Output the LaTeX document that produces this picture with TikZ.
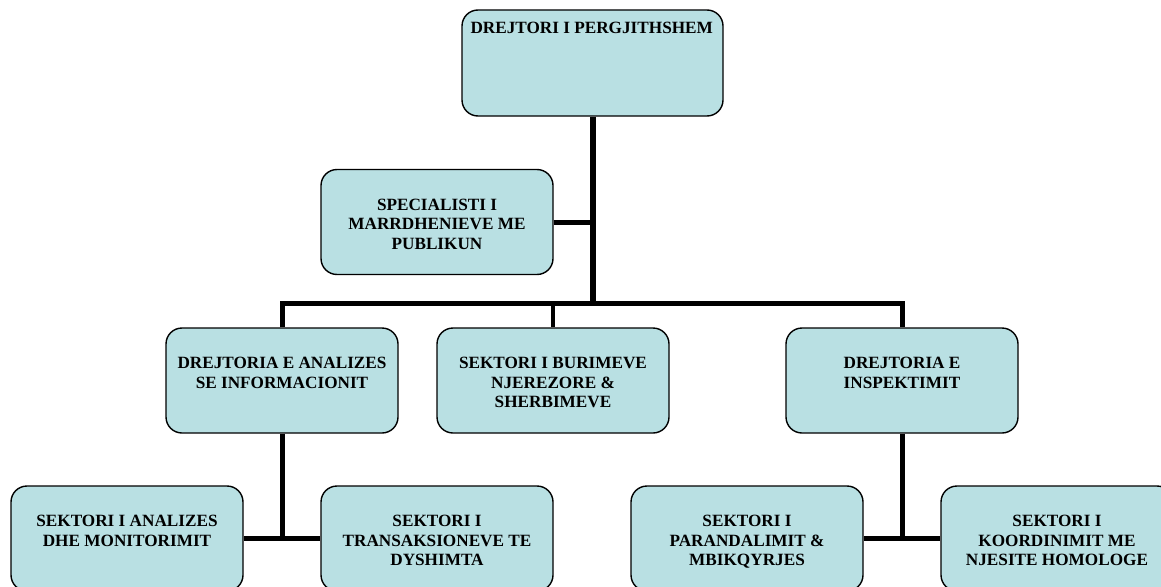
\documentclass[tikz,border=0pt]{standalone}
\usepackage{fontspec}
\setmainfont{Liberation Serif}
\usetikzlibrary{positioning}
\definecolor{boxfill}{RGB}{185,224,227}
\tikzset{
  unit/.style={draw, line width=1.4pt, rounded corners=16pt, fill=boxfill,
    minimum width=232pt, minimum height=105pt, inner sep=0pt},
  unittext/.style={align=center, inner sep=0pt,
    font=\bfseries\fontsize{17.2}{19.5}\selectfont},
  wire/.style={line width=5pt}
}
\begin{document}
\begin{tikzpicture}[x=1pt, y=-1pt]
  \useasboundingbox (0,0) rectangle (1161,586);
  \clip (0,0) rectangle (1161,586);

  % Top box
  \node[unit, minimum width=261pt, minimum height=106pt] (dir) at (592.5,63) {};
  \node[unittext, anchor=north west] (dirtxt) at ([xshift=9pt, yshift=-13pt]dir.north west) {DREJTORI I PERGJITHSHEM};

  % Specialist
  \node[unit] (spec) at (437,222) {};
  \node[unittext, below=30pt of spec.north] (spectxt) {SPECIALISTI I\\MARRDHENIEVE ME\\PUBLIKUN};

  % Second row
  \node[unit] (ana) at (282,380.5) {};
  \node[unittext, below=30pt of ana.north] (anatxt) {DREJTORIA E ANALIZES\\SE INFORMACIONIT};
  \node[unit] (hr) at (553,380.5) {};
  \node[unittext, below=30pt of hr.north] (hrtxt) {SEKTORI I BURIMEVE\\NJEREZORE \&\\SHERBIMEVE};
  \node[unit] (insp) at (902,380.5) {};
  \node[unittext, below=30pt of insp.north] (insptxt) {DREJTORIA E\\INSPEKTIMIT};

  % Third row
  \node[unit] (mon) at (127,538.5) {};
  \node[unittext, below=30pt of mon.north] (montxt) {SEKTORI I ANALIZES\\DHE MONITORIMIT};
  \node[unit] (trans) at (437,538.5) {};
  \node[unittext, below=30pt of trans.north] (transtxt) {SEKTORI I\\TRANSAKSIONEVE TE\\DYSHIMTA};
  \node[unit] (prev) at (747,538.5) {};
  \node[unittext, below=30pt of prev.north] (prevtxt) {SEKTORI I\\PARANDALIMIT \&\\MBIKQYRJES};
  \node[unit] (coord) at (1057,538.5) {};
  \node[unittext, below=30pt of coord.north] (coordtxt) {SEKTORI I\\KOORDINIMIT ME\\NJESITE HOMOLOGE};

  % Connectors
  \coordinate (bar) at (592.5,303);
  \draw[wire, line width=6pt] (dir.south) -- (bar);
  \draw[wire] (spec.east) -- (spec.east -| dir.south);
  \draw[wire] (ana.north) -- (ana.north |- bar) -- (insp.north |- bar) -- (insp.north);
  \draw[wire, line width=4pt] (hr.north) -- (hr.north |- bar);
  \draw[wire] (ana.south) -- (ana.south |- mon.east);
  \draw[wire] (mon.east) -- (trans.west);
  \draw[wire] (insp.south) -- (insp.south |- prev.east);
  \draw[wire] (prev.east) -- (coord.west);
\end{tikzpicture}
\end{document}
